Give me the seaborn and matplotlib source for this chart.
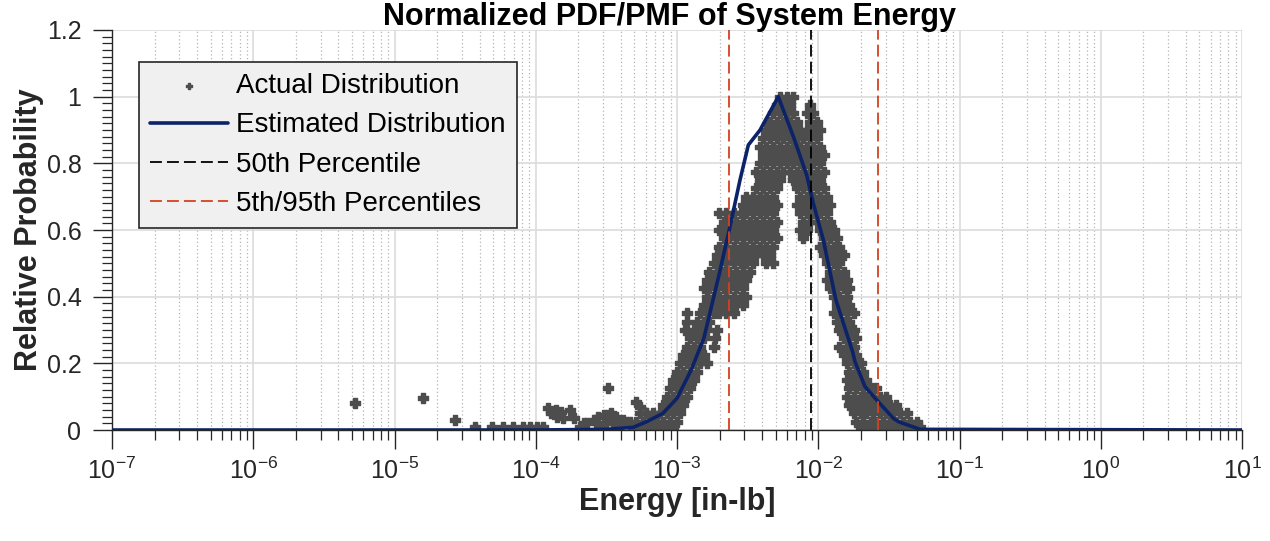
import numpy as np
import pandas as pd
import matplotlib
matplotlib.use("Agg")
import matplotlib.pyplot as plt
import seaborn as sns
from matplotlib.ticker import FixedLocator, MultipleLocator, FuncFormatter, NullFormatter, LogFormatterSciNotation

sns.set_theme(style="white")
plt.rcParams['font.family'] = ['Liberation Sans', 'DejaVu Sans']
plt.rcParams['mathtext.fontset'] = 'custom'
plt.rcParams['mathtext.rm'] = 'Liberation Sans'
plt.rcParams['mathtext.it'] = 'Liberation Sans:italic'
plt.rcParams['mathtext.bf'] = 'Liberation Sans:bold'

# ---------------- data ----------------
# isolated "Actual Distribution" points at low energy: log10(E), relative probability
sparse_logE = [-5.28, -4.80, -4.57, -4.43, -4.31, -4.23, -4.16, -4.09, -4.04, -3.99, -3.95,
               -3.91, -3.86, -3.82, -3.76, -3.85, -3.81, -3.73, -3.89,
               -3.49,
               -3.69, -3.64, -3.59, -3.56, -3.52, -3.49, -3.55, -3.45, -3.40, -3.36,
               -3.47, -3.43, -3.38, -3.33, -3.29, -3.26, -3.22, -3.17, -3.66, -3.50]
sparse_prob = [0.080, 0.097, 0.030, 0.010, 0.010, 0.010, 0.010, 0.010, 0.010, 0.010, 0.010,
               0.065, 0.060, 0.055, 0.060, 0.040, 0.037, 0.035, 0.050,
               0.127,
               0.010, 0.020, 0.030, 0.040, 0.045, 0.045, 0.010, 0.020, 0.015, 0.025,
               0.050, 0.040, 0.030, 0.025, 0.085, 0.070, 0.050, 0.040, 0.020, 0.020]

# dense cloud of "Actual Distribution" points, by probability level: log10(E) of the points on each level
cloud_prob = [1.000, 0.975, 0.950, 0.925, 0.900, 0.875, 0.850, 0.825, 0.800, 0.775,
              0.750, 0.725, 0.700, 0.675, 0.650, 0.625, 0.600, 0.575, 0.550, 0.525,
              0.500, 0.475, 0.450, 0.425, 0.400, 0.375, 0.350, 0.325, 0.300, 0.275,
              0.250, 0.225, 0.200, 0.175, 0.150, 0.125, 0.100, 0.075, 0.050, 0.025, 0.010]
cloud_logE = [
    [-2.27, -2.22, -2.18],
    [-2.29, -2.25, -2.20, -2.06],
    [-2.32, -2.27, -2.22, -2.18, -2.08, -2.04],
    [-2.34, -2.29, -2.25, -2.20, -2.15, -2.06, -2.01],
    [-2.37, -2.32, -2.27, -2.22, -2.18, -2.13, -2.08, -2.04, -1.99],
    [-2.39, -2.34, -2.29, -2.25, -2.20, -2.15, -2.11, -2.06, -2.01],
    [-2.41, -2.37, -2.32, -2.27, -2.22, -2.18, -2.13, -2.08, -2.04, -1.99],
    [-2.39, -2.34, -2.29, -2.25, -2.20, -2.15, -2.11, -2.06, -2.01, -1.96],
    [-2.41, -2.37, -2.32, -2.27, -2.22, -2.18, -2.13, -2.08, -2.04, -1.99],
    [-2.44, -2.39, -2.34, -2.29, -2.25, -2.20, -2.15, -2.11, -2.06, -2.01, -1.96],
    [-2.41, -2.37, -2.32, -2.27, -2.18, -2.13, -2.08, -2.04, -1.99],
    [-2.44, -2.39, -2.34, -2.29, -2.15, -2.11, -2.06, -2.01, -1.96],
    [-2.51, -2.46, -2.41, -2.37, -2.32, -2.13, -2.08, -2.04, -1.99, -1.94],
    [-2.53, -2.48, -2.44, -2.39, -2.34, -2.29, -2.15, -2.11, -2.06, -2.01, -1.96, -1.92],
    [-2.70, -2.65, -2.60, -2.55, -2.51, -2.46, -2.41, -2.37, -2.32, -2.13, -2.08, -2.04, -1.99, -1.94],
    [-2.67, -2.63, -2.58, -2.53, -2.48, -2.44, -2.39, -2.34, -2.29, -2.11, -2.06, -2.01, -1.96, -1.92],
    [-2.70, -2.65, -2.60, -2.55, -2.51, -2.46, -2.41, -2.37, -2.32, -2.13, -2.08, -1.99, -1.94, -1.89],
    [-2.67, -2.63, -2.58, -2.53, -2.48, -2.44, -2.39, -2.34, -2.29, -2.11, -1.96, -1.92, -1.87],
    [-2.70, -2.65, -2.60, -2.55, -2.51, -2.46, -2.41, -2.37, -2.32, -1.99, -1.94, -1.89, -1.85],
    [-2.72, -2.67, -2.63, -2.58, -2.53, -2.48, -2.44, -2.39, -2.34, -1.96, -1.92, -1.87, -1.82],
    [-2.74, -2.70, -2.65, -2.60, -2.55, -2.51, -2.46, -2.37, -2.32, -1.94, -1.89, -1.85],
    [-2.77, -2.72, -2.67, -2.63, -2.58, -2.53, -2.48, -1.92, -1.87, -1.82],
    [-2.79, -2.74, -2.70, -2.65, -2.60, -2.55, -2.51, -1.94, -1.89, -1.85, -1.80],
    [-2.81, -2.77, -2.72, -2.67, -2.63, -2.58, -2.53, -1.92, -1.87, -1.82, -1.78],
    [-2.79, -2.74, -2.70, -2.65, -2.60, -2.55, -2.51, -1.89, -1.85, -1.80],
    [-2.81, -2.77, -2.72, -2.67, -2.63, -2.58, -2.53, -1.87, -1.82, -1.78],
    [-2.93, -2.84, -2.79, -2.74, -2.70, -2.65, -2.60, -1.89, -1.85, -1.80, -1.75],
    [-2.93, -2.86, -2.81, -2.77, -1.87, -1.82, -1.78],
    [-2.94, -2.88, -2.84, -2.79, -2.72, -1.85, -1.80, -1.75],
    [-2.91, -2.86, -2.81, -2.73, -1.82, -1.78, -1.73],
    [-2.93, -2.88, -2.84, -2.74, -1.85, -1.80, -1.75],
    [-2.96, -2.91, -2.86, -2.81, -1.82, -1.78, -1.73],
    [-2.98, -2.93, -2.88, -2.84, -2.79, -1.80, -1.75, -1.70],
    [-3.00, -2.96, -2.91, -2.86, -1.78, -1.73, -1.68],
    [-3.03, -2.98, -2.93, -2.88, -1.80, -1.75, -1.70, -1.66],
    [-3.05, -3.00, -2.96, -2.91, -1.78, -1.73, -1.68, -1.63, -1.59],
    [-3.07, -3.03, -2.98, -2.93, -1.80, -1.75, -1.70, -1.66, -1.61, -1.56, -1.52],
    [-3.10, -3.05, -3.00, -2.96, -1.78, -1.73, -1.68, -1.63, -1.59, -1.54, -1.49, -1.45],
    [-3.26, -3.22, -3.17, -3.12, -3.07, -3.03, -2.98, -1.75, -1.70, -1.66, -1.61, -1.56, -1.52, -1.47, -1.42, -1.37],
    [-3.29, -3.24, -3.19, -3.14, -3.10, -3.05, -3.00, -1.73, -1.68, -1.63, -1.59, -1.54, -1.49, -1.45, -1.40, -1.35, -1.30],
    [-3.31, -3.26, -3.22, -3.17, -3.12, -3.07, -3.03, -1.70, -1.66, -1.61, -1.56, -1.52, -1.47, -1.42, -1.37, -1.33, -1.28],
]

# estimated distribution (line)
line_logE = [-7.0, -4.0, -3.50, -3.31, -3.215, -3.10, -3.00, -2.90, -2.81, -2.70, -2.625,
             -2.554, -2.495, -2.412, -2.283, -2.176, -2.082, -2.035, -1.964, -1.875, -1.757,
             -1.740, -1.669, -1.586, -1.468, -1.433, -1.28, 1.0]
line_prob = [0.0, 0.0, 0.002, 0.008, 0.025, 0.05, 0.095, 0.18, 0.275, 0.47, 0.61,
             0.75, 0.855, 0.90, 1.0, 0.88, 0.765, 0.68, 0.57, 0.39, 0.235,
             0.205, 0.13, 0.09, 0.035, 0.025, 0.002, 0.0]

# percentiles [in-lb]
p50 = 0.00889
p05 = 0.00233
p95 = 0.0267

# axis ticks
x_major_ticks = [1e-7, 1e-6, 1e-5, 1e-4, 1e-3, 1e-2, 1e-1, 1e0, 1e1]
y_major_ticks = [0, 0.2, 0.4, 0.6, 0.8, 1.0, 1.2]

title = "Normalized PDF/PMF of System Energy"
xlabel = "Energy [in-lb]"
ylabel = "Relative Probability"
legend_labels = ["Actual Distribution", "Estimated Distribution", "50th Percentile", "5th/95th Percentiles"]

# ---------------- build tables ----------------
pts_logE = list(sparse_logE)
pts_prob = list(sparse_prob)
for p, row in zip(cloud_prob, cloud_logE):
    pts_logE.extend(row)
    pts_prob.extend([p] * len(row))
df_pts = pd.DataFrame({"E": np.power(10.0, pts_logE), "p": pts_prob})
df_line = pd.DataFrame({"E": np.power(10.0, line_logE), "p": line_prob})

# ---------------- figure ----------------
W, H = 1270, 541
fig = plt.figure(figsize=(W / 100, H / 100), dpi=100)
ax = fig.add_axes([112 / W, 111 / H, 1130 / W, 400 / H])

axis_col = '#262626'
gray = '#4d4d4d'
navy = '#0d2369'
red = '#d4411e'

sns.scatterplot(data=df_pts, x="E", y="p", marker="P", s=62, color=gray,
                edgecolor=gray, linewidth=1.0, ax=ax, label=legend_labels[0], zorder=2)
sns.lineplot(data=df_line, x="E", y="p", color=navy, linewidth=2.6, sort=False,
             estimator=None, ax=ax, label=legend_labels[1], zorder=3)
dash = (0, (6.6, 2.8))
ax.axvline(p50, color='black', ls=dash, lw=1.3, label=legend_labels[2], zorder=4)
ax.axvline(p05, color=red, ls=dash, lw=1.3, label=legend_labels[3], zorder=4)
ax.axvline(p95, color=red, ls=dash, lw=1.3, zorder=4)

ax.set_xscale('log')
ax.set_xlim(x_major_ticks[0], x_major_ticks[-1])
ax.set_ylim(y_major_ticks[0], y_major_ticks[-1])

x_minor = [m * d for d in x_major_ticks[:-1] for m in range(2, 10)]
ax.xaxis.set_major_locator(FixedLocator(x_major_ticks))
ax.xaxis.set_major_formatter(LogFormatterSciNotation())
ax.xaxis.set_minor_locator(FixedLocator(x_minor))
ax.xaxis.set_minor_formatter(NullFormatter())
ax.yaxis.set_major_locator(FixedLocator(y_major_ticks))
ax.yaxis.set_minor_locator(MultipleLocator(0.02))
ax.yaxis.set_major_formatter(FuncFormatter(lambda v, pos: f"{v:g}"))

ax.set_axisbelow(True)
ax.grid(which='major', axis='both', color='#dcdcdc', lw=1.2, ls='-')
ax.grid(which='minor', axis='x', color='#b4b4b4', lw=0.9, ls=(0, (1, 2)))
ax.grid(which='minor', axis='y', visible=False)

for s in ['top', 'right']:
    ax.spines[s].set_visible(False)
for s in ['left', 'bottom']:
    ax.spines[s].set_color(axis_col)
    ax.spines[s].set_linewidth(1.0)

ax.tick_params(which='major', direction='out', length=14, width=1.0, color=axis_col,
               labelsize=18, labelcolor=axis_col, left=True, bottom=True)
ax.tick_params(which='minor', direction='out', length=7, width=0.9, color=axis_col,
               left=True, bottom=True)
ax.tick_params(axis='y', which='major', pad=8)
ax.tick_params(axis='x', which='major', pad=6)

fig.text(670 / W, 1 - 17 / H, title, fontsize=22, fontweight='bold', color='black',
         ha='center', va='center')
ax.set_xlabel(xlabel, fontsize=22, fontweight='bold', color=axis_col, labelpad=2)
ax.set_ylabel(ylabel, fontsize=22, fontweight='bold', color=axis_col, labelpad=2)

leg = ax.legend(loc='upper left', bbox_to_anchor=(0.024, 0.92), fontsize=20, frameon=True,
                fancybox=False, edgecolor=axis_col, facecolor='#f0f0f0', framealpha=1,
                borderaxespad=0, handlelength=2.8, handletextpad=0.3, labelspacing=0.48,
                borderpad=0.4, markerscale=0.55)
leg.get_frame().set_linewidth(1.2)
for t in leg.get_texts():
    t.set_color('black')

fig.savefig("out.png", dpi=100)
